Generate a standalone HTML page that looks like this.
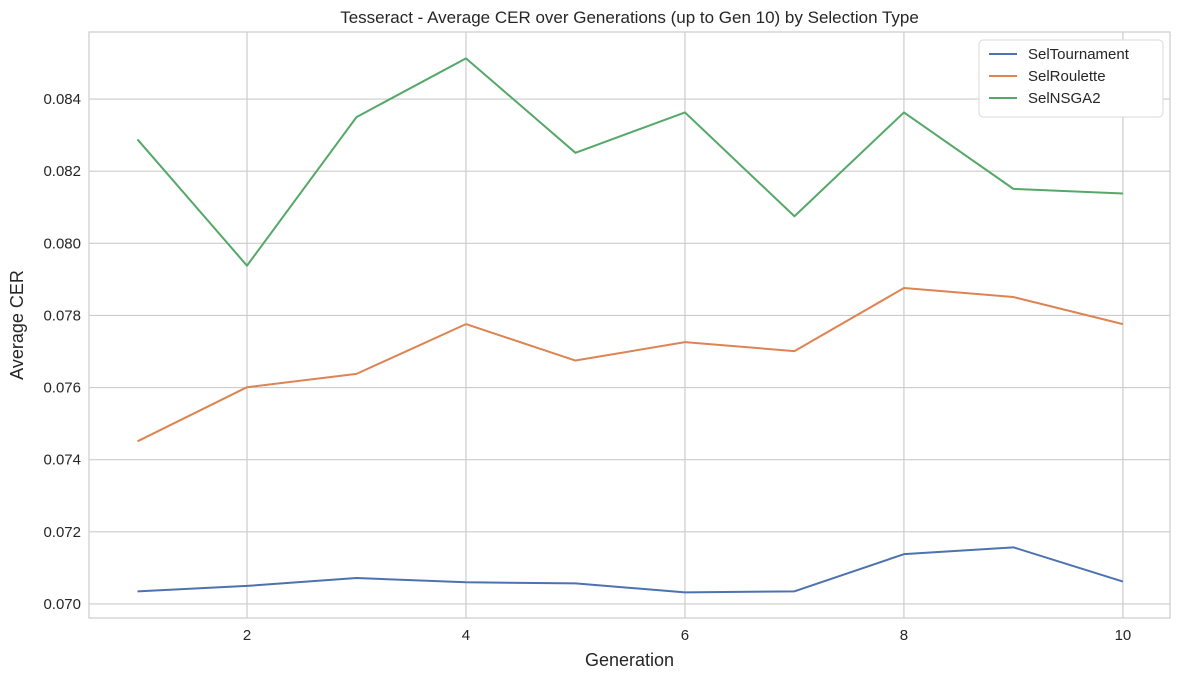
<!DOCTYPE html>
<html><head><meta charset="utf-8">
<style>
body{margin:0;background:#fff;font-family:"Liberation Sans",Arial,sans-serif;}
svg text{font-family:"Liberation Sans",Arial,sans-serif;fill:#262626;}
</style></head>
<body>
<svg id="chart" width="1180" height="680"></svg>
<script>
const generations=[1,2,3,4,5,6,7,8,9,10];
const selTournament=[0.07035,0.07050,0.07072,0.07060,0.07057,0.07032,0.07035,0.07138,0.07157,0.07062];
const selRoulette=[0.07451,0.07601,0.07638,0.07776,0.07675,0.07726,0.07701,0.07876,0.07851,0.07776];
const selNSGA2=[0.08288,0.07938,0.08350,0.08513,0.08251,0.08363,0.08075,0.08363,0.08151,0.08138];
const xTicks=[2,4,6,8,10];
const yTicks=[0.070,0.072,0.074,0.076,0.078,0.080,0.082,0.084];
const seriesNames=["SelTournament","SelRoulette","SelNSGA2"];
const colors=["#4c72b0","#dd8452","#55a868"];

const L=89,R=1170,T=32,B=618;
const xMin=0.557,xMax=10.43,yMin=0.06961,yMax=0.08586;
const X=v=>L+(v-xMin)/(xMax-xMin)*(R-L);
const Y=v=>B-(v-yMin)/(yMax-yMin)*(B-T);
const svg=document.getElementById('chart');
const NS="http://www.w3.org/2000/svg";
function mk(tag,attrs,parent){const e=document.createElementNS(NS,tag);for(const k in attrs)e.setAttribute(k,attrs[k]);(parent||svg).appendChild(e);return e;}

const grid=mk('g',{});


xTicks.forEach(t=>{
  mk('line',{x1:X(t),x2:X(t),y1:T,y2:B,stroke:'#cccccc','stroke-width':1.2},grid);
  const tx=mk('text',{x:X(t),y:B+22,'text-anchor':'middle','font-size':15});
  tx.textContent=t;
  
  
});
yTicks.forEach(t=>{
  mk('line',{x1:L,x2:R,y1:Y(t),y2:Y(t),stroke:'#cccccc','stroke-width':1.2},grid);
  const tx=mk('text',{x:L-8,y:Y(t)+5,'text-anchor':'end','font-size':15});
  tx.textContent=t.toFixed(3);
  
  
});
const frame=mk('rect',{x:L,y:T,width:R-L,height:B-T,fill:'none',stroke:'#cccccc','stroke-width':1.2});



[selTournament,selRoulette,selNSGA2].forEach((s,i)=>{
  const p=mk('polyline',{points:s.map((v,j)=>X(generations[j])+','+Y(v)).join(' '),fill:'none',stroke:colors[i],'stroke-width':2,'stroke-linejoin':'round'});
  
  
});

const title=mk('text',{x:(L+R)/2,y:23,'text-anchor':'middle','font-size':17});
title.textContent="Tesseract - Average CER over Generations (up to Gen 10) by Selection Type";


const xl=mk('text',{x:(L+R)/2,y:666,'text-anchor':'middle','font-size':18});
xl.textContent="Generation";


const yl=mk('text',{x:23,y:(T+B)/2,'text-anchor':'middle','font-size':18,transform:`rotate(-90 23 ${(T+B)/2})`});
yl.textContent="Average CER";



const lg=mk('g',{});


mk('rect',{x:979,y:40,width:184,height:77,rx:4,fill:'#fff',stroke:'#d9d9d9'},lg);
seriesNames.forEach((n,i)=>{
  const y=54+i*22;
  const e=mk('g',{},lg);
  
  
  mk('line',{x1:989,x2:1017,y1:y,y2:y,stroke:colors[i],'stroke-width':2},e);
  const t=mk('text',{x:1028,y:y+5,'font-size':15},e);
  t.textContent=n;
});
</script>
</body></html>
